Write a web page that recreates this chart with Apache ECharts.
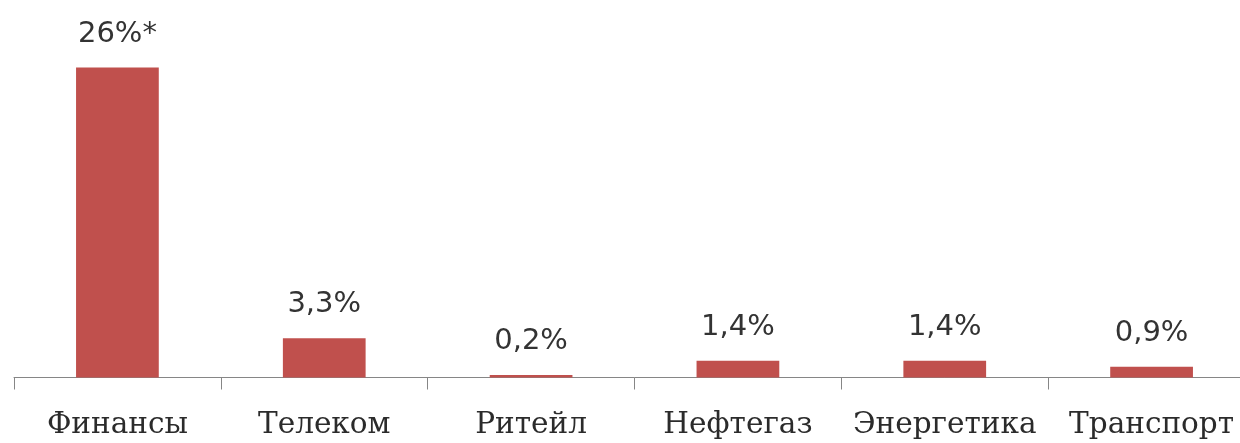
<!DOCTYPE html>
<html>
<head>
<meta charset="utf-8">
<script src="https://cdn.jsdelivr.net/npm/echarts@6/dist/echarts.min.js"></script>
<style>html,body{margin:0;padding:0;background:#fff;overflow:hidden;}#c{width:1256px;height:443px;}</style>
</head>
<body>
<div id="c"></div>
<script>
const categories = ['Финансы', 'Телеком', 'Ритейл', 'Нефтегаз', 'Энергетика', 'Транспорт'];
const values = [26, 3.3, 0.2, 1.4, 1.4, 0.9];
const valueLabels = ['26%*', '3,3%', '0,2%', '1,4%', '1,4%', '0,9%'];

const chart = echarts.init(document.getElementById('c'), null, {renderer: 'canvas'});
chart.setOption({
  animation: false,
  grid: {left: 14, right: 1, top: 67.5, height: 310, containLabel: false, outerBoundsMode: 'none'},
  xAxis: {
    type: 'category',
    data: categories,
    boundaryGap: true,
    axisLine: {lineStyle: {color: '#868686', width: 1}},
    axisTick: {show: true, length: 12, lineStyle: {color: '#868686'}},
    axisLabel: {color: '#2b2b2b', fontFamily: 'DejaVu Serif', fontSize: 29.5, margin: 33, interval: 0}
  },
  yAxis: {
    type: 'value', min: 0, max: 26, show: false,
    splitLine: {show: false}
  },
  series: [{
    type: 'bar',
    data: values,
    barWidth: '40%',
    itemStyle: {color: '#C0504D'},
    label: {
      show: true,
      position: 'top',
      distance: 19,
      color: '#333333',
      fontFamily: 'DejaVu Sans',
      fontSize: 29,
      formatter: p => valueLabels[p.dataIndex]
    }
  }]
});
</script>
</body>
</html>
